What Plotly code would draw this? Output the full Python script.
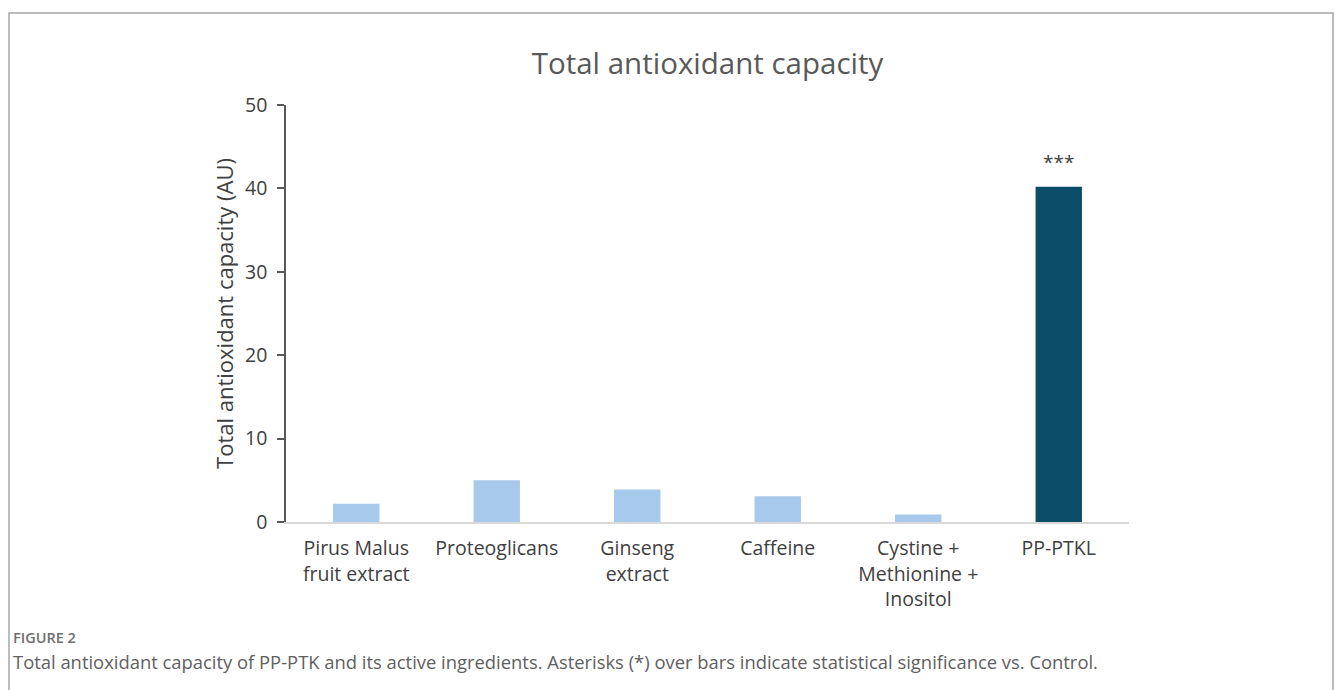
import plotly.graph_objects as go

categories = ["Pirus Malus<br>fruit extract", "Proteoglicans", "Ginseng<br>extract", "Caffeine",
              "Cystine +<br>Methionine +<br>Inositol", "PP-PTKL"]
values = [2.2, 5.0, 3.9, 3.1, 0.9, 40.2]
bar_colors = ["#A7C9EB", "#A7C9EB", "#A7C9EB", "#A7C9EB", "#A7C9EB", "#0B4D68"]
significance = ["", "", "", "", "", "***"]
y_ticks = [0, 10, 20, 30, 40, 50]

W, H = 1335, 690
L, R, T, B = 286, 1129, 105, 522

font_chart = "Open Sans"
fig = go.Figure()
fig.add_trace(go.Bar(
    x=categories, y=values, marker=dict(color=bar_colors, line=dict(width=0)),
    width=0.33, showlegend=False,
))

for c, v, s in zip(categories, values, significance):
    if s:
        fig.add_annotation(x=c, y=v, text=s, showarrow=False, yanchor="bottom", yshift=10,
                           font=dict(family=font_chart, size=19, color="#404040"))

def px(xp):
    return (xp - L) / (R - L)

def py(yp):
    return (B - yp) / (B - T)

# figure border
fig.add_shape(type="rect", xref="paper", yref="paper",
              x0=px(9), x1=px(1333), y0=py(720), y1=py(13),
              line=dict(color="#a6a6a6", width=1.5), fillcolor="rgba(0,0,0,0)", layer="below")

fig.add_annotation(xref="paper", yref="paper", x=px(11), y=py(637), xanchor="left", yanchor="middle",
                   text="FIGURE 2", showarrow=False,
                   font=dict(family="Open Sans", size=14.5, color="#6e6e6e", weight=600))
fig.add_annotation(xref="paper", yref="paper", x=px(11), y=py(661), xanchor="left", yanchor="middle",
                   text="Total antioxidant capacity of PP-PTK and its active ingredients. Asterisks (*) over bars indicate statistical significance vs. Control.",
                   showarrow=False,
                   font=dict(family="Open Sans", size=18.4, color="#606060"))

fig.update_layout(
    width=W, height=H,
    margin=dict(l=L, r=W - R, t=T, b=H - B),
    paper_bgcolor="white", plot_bgcolor="white",
    title=dict(text="Total antioxidant capacity", xref="paper", x=0.5, xanchor="center",
               y=1 - 64 / H, yanchor="middle",
               font=dict(family=font_chart, size=29.5, color="#595959")),
    bargap=0.67,
    font=dict(family=font_chart, color="#595959"),
)
fig.update_xaxes(
    showline=True, linecolor="#d9d9d9", linewidth=1.5, ticks="", showgrid=False,
    tickfont=dict(family=font_chart, size=19.5, color="#404040"), zeroline=False,
    ticklabelstandoff=8,
)
fig.update_yaxes(
    range=[0, 50], tickvals=y_ticks, showline=True, linecolor="#595959", linewidth=1.5,
    ticks="outside", ticklen=7, tickcolor="#595959", tickwidth=1.5, showgrid=False, zeroline=False,
    tickfont=dict(family=font_chart, size=19.5, color="#404040"), ticklabelstandoff=6,
    title=dict(text="Total antioxidant capacity (AU)", standoff=5,
               font=dict(family=font_chart, size=22, color="#404040")),
)

fig.write_html("out.html")
